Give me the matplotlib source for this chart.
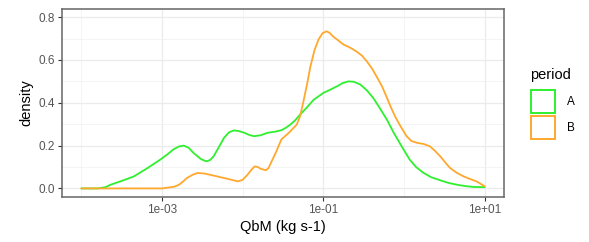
import numpy as np
import matplotlib
matplotlib.use("Agg")
import matplotlib.pyplot as plt
from matplotlib.patches import Rectangle
from matplotlib.ticker import NullFormatter

plt.rcParams['font.family'] = ['Liberation Sans', 'DejaVu Sans']

# densities, x given as log10(QbM)
logA = [-4.0, -3.79, -3.70, -3.64, -3.50, -3.35, -3.18, -3.02, -2.93, -2.86,
        -2.79, -2.73, -2.67, -2.61, -2.52, -2.47, -2.44, -2.40, -2.36, -2.30,
        -2.23, -2.17, -2.11, -2.05, -1.98, -1.92, -1.86, -1.78, -1.69, -1.60,
        -1.52, -1.47, -1.41, -1.35, -1.29, -1.20, -1.12, -1.00, -0.91, -0.83,
        -0.76, -0.69, -0.62, -0.54, -0.46, -0.38, -0.30, -0.21, -0.13, -0.05,
        0.07, 0.15, 0.24, 0.34, 0.45, 0.55, 0.66, 0.76, 0.86, 1.00]
densA = [0.0, 0.0, 0.006, 0.017, 0.035, 0.056, 0.095, 0.135, 0.160, 0.182,
         0.196, 0.200, 0.190, 0.166, 0.138, 0.129, 0.127, 0.134, 0.150, 0.190,
         0.237, 0.262, 0.271, 0.268, 0.260, 0.250, 0.244, 0.248, 0.260, 0.265,
         0.272, 0.282, 0.298, 0.318, 0.344, 0.380, 0.414, 0.446, 0.462, 0.477,
         0.492, 0.500, 0.498, 0.485, 0.458, 0.422, 0.375, 0.320, 0.262, 0.210,
         0.135, 0.100, 0.073, 0.052, 0.038, 0.026, 0.017, 0.011, 0.007, 0.006]

logB = [-4.0, -3.0, -2.85, -2.79, -2.74, -2.69, -2.62, -2.56, -2.48, -2.36,
        -2.20, -2.06, -2.00, -1.94, -1.89, -1.85, -1.81, -1.78, -1.71, -1.68,
        -1.65, -1.58, -1.52, -1.43, -1.33, -1.29, -1.25, -1.20, -1.16, -1.11,
        -1.06, -1.01, -0.96, -0.92, -0.88, -0.81, -0.75, -0.67, -0.59, -0.52,
        -0.46, -0.40, -0.34, -0.27, -0.21, -0.16, -0.11, -0.05, 0.03, 0.09,
        0.16, 0.24, 0.32, 0.38, 0.45, 0.51, 0.57, 0.65, 0.74, 0.82, 0.90, 1.00]
densB = [0.0, 0.0, 0.008, 0.017, 0.032, 0.049, 0.064, 0.072, 0.070, 0.060,
         0.046, 0.033, 0.040, 0.064, 0.088, 0.103, 0.100, 0.092, 0.085, 0.095,
         0.119, 0.175, 0.229, 0.259, 0.298, 0.335, 0.400, 0.490, 0.570, 0.645,
         0.695, 0.725, 0.734, 0.726, 0.710, 0.690, 0.672, 0.658, 0.640, 0.620,
         0.593, 0.562, 0.523, 0.475, 0.422, 0.377, 0.336, 0.295, 0.245, 0.222,
         0.213, 0.208, 0.197, 0.177, 0.150, 0.122, 0.096, 0.074, 0.056, 0.044,
         0.033, 0.010]

periods = ['A', 'B']
colors = ['#2ef02e', '#ffa82e']
xbreaks = [1e-3, 1e-1, 1e1]
xlabels = ['1e-03', '1e-01', '1e+01']
xminor = [1e-4, 1e-2, 1e0]
ybreaks = [0.0, 0.2, 0.4, 0.6, 0.8]
yminor = [0.1, 0.3, 0.5, 0.7]

fig = plt.figure(figsize=(5.89, 2.42), dpi=100)
ax = fig.add_axes([62/589, 1 - 197/242, 442/589, 188/242])

for i, (lx, d) in enumerate([(logA, densA), (logB, densB)]):
    ax.plot(10 ** np.array(lx), d, color=colors[i], lw=1.3, zorder=3 + i,
            solid_capstyle='round', solid_joinstyle='round')

ax.set_xscale('log')
ax.set_xlim(10 ** -4.24, 10 ** 1.24)
ax.set_ylim(-0.04, 0.838)

ax.set_xticks(xbreaks)
ax.set_xticklabels(xlabels)
ax.set_xticks(xminor, minor=True)
ax.xaxis.set_minor_formatter(NullFormatter())
ax.set_yticks(ybreaks)
ax.set_yticklabels(['%.1f' % v for v in ybreaks])
ax.set_yticks(yminor, minor=True)

ax.grid(True, which='major', color='#ebebeb', lw=0.9, zorder=0)
ax.grid(True, which='minor', color='#f2f2f2', lw=0.6, zorder=0)
ax.set_axisbelow(True)
ax.tick_params(which='minor', length=0)
ax.tick_params(which='major', length=3, width=0.8, color='#333333',
               labelsize=8.5, labelcolor='#555555', pad=2)
for s in ax.spines.values():
    s.set_color('#666666')
    s.set_linewidth(1.1)

ax.set_xlabel('QbM (kg s-1)', fontsize=10.5, labelpad=3)
ax.set_ylabel('density', fontsize=10.5, labelpad=4)

# legend drawn by hand to sit like the ggplot guide
fig.text(530/589, 1 - 75/242, 'period', fontsize=10.5, va='center', ha='left')
for i, p in enumerate(periods):
    top = 90 + i * 26
    fig.add_artist(Rectangle((531/589, 1 - (top + 23)/242), 24/589, 23/242,
                             transform=fig.transFigure, facecolor='white',
                             edgecolor=colors[i], lw=1.4))
    fig.text(567/589, 1 - (top + 12)/242, p, fontsize=8.5, va='center', ha='left')

fig.savefig('out.png', dpi=100)
